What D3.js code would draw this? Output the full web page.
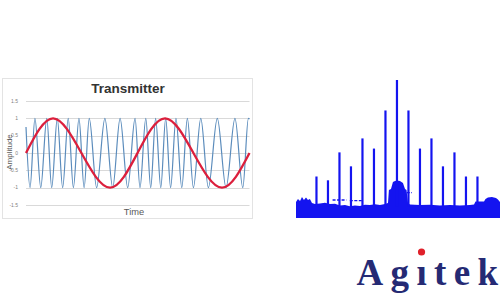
<!DOCTYPE html>
<html>
<head>
<meta charset="utf-8">
<script src="https://cdn.jsdelivr.net/npm/d3@7"></script>
<style>
  body { margin: 0; background: #fff; }
  svg { display: block; }
</style>
</head>
<body>
<div id="chart"></div>
<script>
// left panel: time-domain FM signal
const ampTicks = [1.5, 1, 0.5, 0, -0.5, -1, -1.5];
const ampTickLabels = ["1.5", "1", "0.5", "0", "-0.5", "-1", "-1.5"];

// modulating tone: quarter-period points
const msgTime = [0, 12.1, 24.8, 37.6, 49.9, 62.2, 74.9, 87.7, 100];
const msgAmp = [0, 1, 0, -1, 0, 1, 0, -1, 0];

// carrier: turning points
const carTime = [
  0, 1.8, 4.0, 6.6, 9.3, 11.5, 14.0, 16.4, 18.9, 21.2, 23.7, 26.0, 28.3,
  31.6, 35.3, 38.8, 42.1, 45.5, 48.8, 51.0, 53.6, 55.8, 58.0, 60.3, 62.5,
  64.7, 67.1, 69.7, 72.2, 74.9, 78.2, 81.6, 85.6, 89.5, 93.5, 97.0, 99.5, 100,
];
const carAmp = [
  0.75, -1, 1, -1, 1, -1, 1, -1, 1, -1, 1, -1, 1,
  -1, 1, -1, 1, -1, 1, -1, 1, -1, 1, -1, 1,
  -1, 1, -1, 1, -1, 1, -1, 1, -1, 1, -1, 1, 0.98,
];

// right panel: spectrum, sideband order vs level
const lineOrder = [-7, -6, -5, -4, -3, -2, -1, 0, 1, 2, 3, 4, 5, 6, 7];
const lineLevel = [24, 21, 43, 32, 54, 46, 76, 100, 76, 46, 54, 32, 43, 24, 24];

const floorOrder = [
  -8.78, -8.61, -8.43, -8.26, -8.09, -7.91, -7.74, -7.57, -7.39, -7.13, -6.7,
  -6.26, -5.83, -5.39, -4.96, -4.52, -4.09, -3.65, -3.22, -2.78, -2.35, -1.91,
  -1.48, -1.04, -0.78, -0.7, -0.52, -0.35, -0.17, 0, 0.26, 0.52, 0.7, 0.83,
  0.96, 1.13, 2.0, 2.87, 3.74, 4.61, 5.48, 6.35, 6.7, 6.83, 7.57, 7.7, 7.91,
  8.26, 8.61, 8.78, 8.96,
];
const floorTop = [
  3.9, 6.3, 4.7, 7.9, 5.5, 7.5, 5.5, 6.3, 3.1, 2.4, 2.8,
  3.4, 2.4, 2.6, 1.2, 1.6, 0.6, 1.2, 0.8, 1.8, 1.6, 2.2,
  1.6, 2.4, 3.1, 13.4, 14.2, 19.7, 20.5, 20.9, 20.5, 18.9, 14.2, 13.4,
  3.1, 2.0, 1.6, 1.8, 1.2, 1.6, 1.2, 1.6, 2.0, 4.3, 4.3, 6.3, 7.5,
  7.9, 7.1, 5.9, 3.9,
];
const floorBottom = [
  -8.7, -8.7, -8.7, -8.7, -8.7, -8.7, -8.7, -8.7, -8.7, -8.7, -8.7,
  -8.7, -8.7, -8.7, -8.7, -8.7, -8.7, -8.7, -8.7, -8.7, -8.7, -8.7,
  -8.7, -8.7, -8.7, -8.7, -8.7, -8.7, -8.7, -8.7, -8.7, -8.7, -8.7, -8.7,
  -8.7, -8.7, -8.7, -8.7, -8.7, -8.7, -8.7, -8.7, -8.7, -8.7, -8.7, -8.7, -8.7,
  -8.7, -8.7, -8.7, -8.7,
];
const spurStart = [-5.6, -4.1, 0.85];
const spurEnd = [-4.4, -3.0, 1.3];
const spurLevel = [5.5, 5.0, 11.3];

const svg = d3
  .select("#chart")
  .append("svg")
  .attr("width", 500)
  .attr("height", 300);

// ---- left: Transmitter ----
const x = d3.scaleLinear().domain([0, 100]).range([26, 249.5]);
const y = d3.scaleLinear().domain([-1.5, 1.5]).range([205, 101]);

svg
  .append("rect")
  .attr("x", 2.5)
  .attr("y", 78.5)
  .attr("width", 250)
  .attr("height", 140)
  .attr("fill", "#fff")
  .attr("stroke", "#e3e3e3");

svg
  .append("g")
  .selectAll("line")
  .data(ampTicks)
  .enter()
  .append("line")
  .attr("x1", x(0))
  .attr("x2", x(100))
  .attr("y1", (d) => Math.round(y(d)) + 0.5)
  .attr("y2", (d) => Math.round(y(d)) + 0.5)
  .attr("stroke", "#d9d9d9");

svg
  .append("g")
  .selectAll("text")
  .data(ampTicks)
  .enter()
  .append("text")
  .attr("x", 18)
  .attr("y", (d) => y(d) + 1.8)
  .attr("text-anchor", "end")
  .attr("font-family", "Liberation Sans, Arial, sans-serif")
  .attr("font-size", 5)
  .attr("fill", "#7f7f7f")
  .text((d, i) => ampTickLabels[i]);

svg
  .append("path")
  .datum(carTime.map((t, i) => [t, carAmp[i]]))
  .attr("fill", "none")
  .attr("stroke", "#5b8cbc")
  .attr("stroke-width", 1.2)
  .attr(
    "d",
    d3
      .line()
      .curve(d3.curveMonotoneX)
      .x((d) => x(d[0]))
      .y((d) => y(d[1]))
  );

svg
  .append("path")
  .datum(msgTime.map((t, i) => [t, msgAmp[i]]))
  .attr("fill", "none")
  .attr("stroke", "#dc1f3c")
  .attr("stroke-width", 2.3)
  .attr(
    "d",
    d3
      .line()
      .curve(d3.curveNatural)
      .x((d) => x(d[0]))
      .y((d) => y(d[1]))
  );

svg
  .append("text")
  .attr("x", 128)
  .attr("y", 93)
  .attr("text-anchor", "middle")
  .attr("font-family", "Liberation Sans, Arial, sans-serif")
  .attr("font-weight", "bold")
  .attr("font-size", 13.5)
  .attr("fill", "#333")
  .text("Transmitter");

svg
  .append("text")
  .attr("x", 134)
  .attr("y", 215)
  .attr("text-anchor", "middle")
  .attr("font-family", "Liberation Sans, Arial, sans-serif")
  .attr("font-size", 9.3)
  .attr("fill", "#595959")
  .text("Time");

svg
  .append("text")
  .attr("transform", "translate(12,152) rotate(-90)")
  .attr("text-anchor", "middle")
  .attr("font-family", "Liberation Sans, Arial, sans-serif")
  .attr("font-size", 8)
  .attr("fill", "#595959")
  .text("Amplitude");

// ---- right: spectrum ----
const fx = d3.scaleLinear().domain([-8.78, 8.96]).range([296, 500]);
const fy = d3.scaleLinear().domain([-9, 100]).range([218.4, 80]);
const blue = "#1414f0";

svg
  .append("path")
  .datum(floorOrder.map((k, i) => [k, floorTop[i], floorBottom[i]]))
  .attr("fill", blue)
  .attr(
    "d",
    d3
      .area()
      .x((d) => fx(d[0]))
      .y0((d) => fy(d[2]))
      .y1((d) => fy(d[1]))
  );

svg
  .append("g")
  .selectAll("line")
  .data(spurStart)
  .enter()
  .append("line")
  .attr("x1", (d) => fx(d))
  .attr("x2", (d, i) => fx(spurEnd[i]))
  .attr("y1", (d, i) => fy(spurLevel[i]))
  .attr("y2", (d, i) => fy(spurLevel[i]))
  .attr("stroke", blue)
  .attr("stroke-width", 1.3)
  .attr("stroke-dasharray", "3,1.5");

svg
  .append("g")
  .selectAll("line")
  .data(lineOrder)
  .enter()
  .append("line")
  .attr("x1", (d) => fx(d))
  .attr("x2", (d) => fx(d))
  .attr("y1", fy(0))
  .attr("y2", (d, i) => fy(lineLevel[i]))
  .attr("stroke", blue)
  .attr("stroke-width", 2.2);

// ---- logo ----
const logo = svg
  .append("text")
  .attr("x", 356.5)
  .attr("y", 285)
  .attr("font-family", "Liberation Serif, Times New Roman, serif")
  .attr("font-weight", "bold")
  .attr("font-size", 37)
  .attr("fill", "#252a74")
  .attr("textLength", 141.5)
  .attr("lengthAdjust", "spacing")
  .text("Agitek");

// the dot on the "i" is red and sits a little higher
const iBox = logo.node().getExtentOfChar(2);
svg
  .append("rect")
  .attr("x", iBox.x - 1)
  .attr("y", 250)
  .attr("width", iBox.width + 2)
  .attr("height", 285 - 37 * 0.47 - 250 - 1)
  .attr("fill", "#fff");
svg
  .append("circle")
  .attr("cx", iBox.x + iBox.width / 2)
  .attr("cy", 252)
  .attr("r", 3.6)
  .attr("fill", "#e0202a");
</script>
</body>
</html>
